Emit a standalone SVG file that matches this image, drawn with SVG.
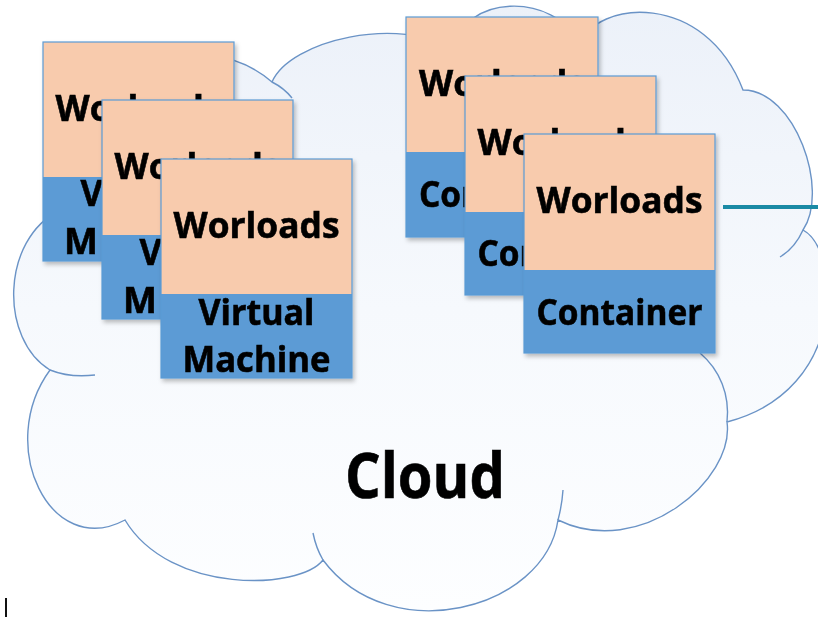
<svg xmlns="http://www.w3.org/2000/svg" width="818" height="617" viewBox="0 0 818 617">
<defs>
<linearGradient id="cloudFill" x1="0" y1="0" x2="0" y2="1">
<stop offset="0" stop-color="#ecf1f9"/>
<stop offset="0.5" stop-color="#f6f9fd"/>
<stop offset="1" stop-color="#fdfeff"/>
</linearGradient>
<filter id="shadow" x="-10%" y="-10%" width="125%" height="125%">
<feDropShadow dx="2" dy="3" stdDeviation="2" flood-color="#000" flood-opacity="0.25"/>
</filter>
<style>
.cloud{fill:url(#cloudFill);stroke:#6a93c6;stroke-width:1.4}
.arc{fill:none;stroke:#6a93c6;stroke-width:1.4}
.top{fill:#f8cbad}
.bot{fill:#5b9bd5}
.frame{fill:none;stroke:#5b9bd5;stroke-width:1.2}
.t{font-family:"Open Sans","Liberation Sans",sans-serif;font-weight:bold;font-size:36px;fill:#000;stroke:#000;stroke-width:0.6;text-anchor:middle}
.ts{font-family:"Open Sans","Liberation Sans",sans-serif;font-weight:bold;font-size:36px;fill:#000;stroke:#000;stroke-width:0.6;text-anchor:start}
.big{font-family:"Open Sans","Liberation Sans",sans-serif;font-weight:bold;font-size:63px;fill:#000;stroke:#000;stroke-width:0.6;text-anchor:middle}
.conn{stroke:#1a8aa5;stroke-width:4;fill:none}
</style>
</defs>
<rect width="818" height="617" fill="#fff"/>
<g id="cloud">
<path class="cloud" d="M272,82 C290,40 400,15 455,50 C460,-5 555,-10 580,45 C595,0 705,-10 743,90 C795,90 830,190 803,230 C840,250 850,390 727,422 C735,480 640,560 558,520 C545,610 390,650 323,560 C300,590 170,595 125,520 C50,560 -5,445 50,370 C0,340 0,240 60,210 C60,60 200,20 272,82 Z"/>
<path class="arc" d="M272,82 Q284,88 292,98"/>
<path class="arc" d="M803,230 Q795,248 780,257"/>
<path class="arc" d="M727,422 C730,395 720,370 700,353"/>
<path class="arc" d="M558,520 Q562,505 563,490"/>
<path class="arc" d="M323,560 Q316,548 313,533"/>
<path class="arc" d="M50,370 Q70,378 95,375"/>
<text class="big" x="425" y="498" textLength="160" lengthAdjust="spacingAndGlyphs">Cloud</text>
</g>
<g id="vm1" filter="url(#shadow)">
<rect class="top" x="43" y="42" width="191" height="135"/>
<rect class="bot" x="43" y="177" width="191" height="84"/>
<rect class="frame" x="43" y="42" width="191" height="219"/>
<text class="t" x="138.5" y="121" textLength="166" lengthAdjust="spacingAndGlyphs">Worloads</text>
<text class="t" x="138.5" y="206" textLength="116" lengthAdjust="spacingAndGlyphs">Virtual</text>
<text class="ts" x="64" y="254">M<tspan dx="7">achine</tspan></text>
</g>
<g id="vm2" filter="url(#shadow)">
<rect class="top" x="102" y="100" width="191" height="135"/>
<rect class="bot" x="102" y="235" width="191" height="84"/>
<rect class="frame" x="102" y="100" width="191" height="219"/>
<text class="t" x="197.5" y="179" textLength="166" lengthAdjust="spacingAndGlyphs">Worloads</text>
<text class="t" x="197.5" y="265" textLength="116" lengthAdjust="spacingAndGlyphs">Virtual</text>
<text class="ts" x="123" y="313">M<tspan dx="7">achine</tspan></text>
</g>
<g id="vm3" filter="url(#shadow)">
<rect class="top" x="161" y="159" width="191" height="135"/>
<rect class="bot" x="161" y="294" width="191" height="84"/>
<rect class="frame" x="161" y="159" width="191" height="219"/>
<text class="t" x="256.5" y="238" textLength="166" lengthAdjust="spacingAndGlyphs">Worloads</text>
<text class="t" x="256.5" y="325" textLength="116" lengthAdjust="spacingAndGlyphs">Virtual</text>
<text class="t" x="256.5" y="372" textLength="148" lengthAdjust="spacingAndGlyphs">Machine</text>
</g>
<g id="ct1" filter="url(#shadow)">
<rect class="top" x="406" y="17" width="192" height="135"/>
<rect class="bot" x="406" y="152" width="192" height="85"/>
<rect class="frame" x="406" y="17" width="192" height="220"/>
<text class="t" x="502" y="96" textLength="166" lengthAdjust="spacingAndGlyphs">Worloads</text>
<text class="t" x="502" y="207" textLength="166" lengthAdjust="spacingAndGlyphs">Container</text>
</g>
<g id="ct2" filter="url(#shadow)">
<rect class="top" x="465" y="76" width="191" height="136"/>
<rect class="bot" x="465" y="212" width="191" height="83"/>
<rect class="frame" x="465" y="76" width="191" height="219"/>
<text class="t" x="560.5" y="155" textLength="166" lengthAdjust="spacingAndGlyphs">Worloads</text>
<text class="t" x="560.5" y="266" textLength="166" lengthAdjust="spacingAndGlyphs">Container</text>
</g>
<g id="ct3" filter="url(#shadow)">
<rect class="top" x="524" y="134" width="191" height="136"/>
<rect class="bot" x="524" y="270" width="191" height="83"/>
<rect class="frame" x="524" y="134" width="191" height="219"/>
<text class="t" x="619.5" y="213" textLength="166" lengthAdjust="spacingAndGlyphs">Worloads</text>
<text class="t" x="619.5" y="325" textLength="166" lengthAdjust="spacingAndGlyphs">Container</text>
</g>
<g id="connectors">
<line class="conn" x1="723" y1="207" x2="818" y2="207"/>
</g>
<rect x="5" y="598" width="2" height="19" fill="#111"/>
</svg>
